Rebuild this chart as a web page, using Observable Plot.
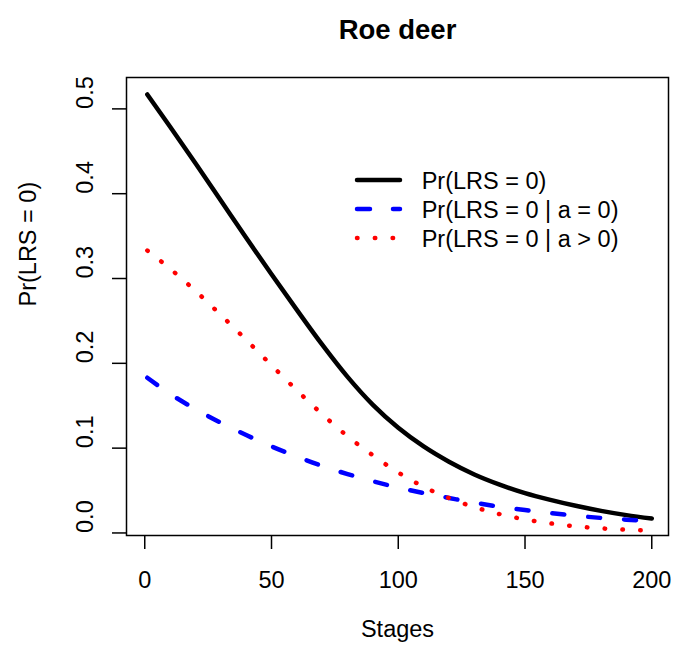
<!DOCTYPE html>
<html>
<head>
<meta charset="utf-8">
<script src="https://cdn.jsdelivr.net/npm/d3@7"></script>
<script src="https://cdn.jsdelivr.net/npm/@observablehq/plot@0.6"></script>
<style>
  body { margin: 0; background: #fff; }
  #wrap { position: relative; width: 673px; height: 655px; font-family: "Liberation Sans", Arial, Helvetica, sans-serif; }
  .lg-line { position: absolute; left: 350px; width: 60px; height: 12px; overflow: visible; }
  .lg-text { position: absolute; left: 421.7px; height: 29px; line-height: 29px; font-size: 23.5px; color: #000; white-space: nowrap; }
</style>
</head>
<body>
<div id="wrap"></div>
<script>
// ---- data ----
const stages = [1, 10, 20, 30, 40, 50, 60, 70, 80, 90, 100, 110, 120, 130, 140, 150, 160, 170, 180, 190, 200];
const prAll  = [0.517, 0.479, 0.436, 0.392, 0.348, 0.305, 0.263, 0.222, 0.184, 0.151, 0.124, 0.102, 0.084, 0.069, 0.057, 0.047, 0.039, 0.032, 0.026, 0.021, 0.017];
const prA0   = [0.183, 0.164, 0.146, 0.130, 0.1155, 0.102, 0.090, 0.079, 0.0694, 0.061, 0.0535, 0.047, 0.0413, 0.0357, 0.0309, 0.0270, 0.0234, 0.0203, 0.0177, 0.0157, 0.0140];
const prApos = [0.333, 0.3115, 0.2854, 0.257, 0.2277, 0.1977, 0.1682, 0.140, 0.114, 0.0915, 0.0713, 0.0545, 0.0411, 0.0305, 0.0222, 0.016, 0.0113, 0.0078, 0.0054, 0.0038, 0.0027];
const seriesNames = ["Pr(LRS = 0)", "Pr(LRS = 0 | a = 0)", "Pr(LRS = 0 | a > 0)"];
const xTicks = [0, 50, 100, 150, 200];
const yTicks = [0, 0.1, 0.2, 0.3, 0.4, 0.5];
const titleText = "Roe deer";
const xLabel = "Stages";
const yLabel = "Pr(LRS = 0)";

// ---- styles ----
const FONT = "\"Liberation Sans\", Arial, Helvetica, sans-serif";
const FS = 23.5;
const LW = 4.5;
const styles = [
  {stroke: "#000000", strokeDasharray: null},
  {stroke: "#0000ff", strokeDasharray: "12,24"},
  {stroke: "#ff0000", strokeDasharray: "0.5,17.3"}
];

const rows = s => stages.map((st, i) => ({stage: st, value: s[i]}));
const seriesData = [prAll, prA0, prApos];

const lineMarks = seriesData.map((s, i) => Plot.line(rows(s), {
  x: "stage", y: "value",
  stroke: styles[i].stroke,
  strokeWidth: LW,
  strokeDasharray: styles[i].strokeDasharray,
  strokeLinecap: "round",
  strokeLinejoin: "round",
  curve: "monotone-x"
}));

const chart = Plot.plot({
  width: 673, height: 655,
  marginLeft: 126, marginRight: 5, marginTop: 77, marginBottom: 120,
  x: {domain: [-7.2, 206.6]},
  y: {domain: [-0.003, 0.537]},
  style: {fontFamily: FONT, background: "white", color: "black"},
  marks: [
    ...lineMarks,
    Plot.frame({stroke: "black", strokeWidth: 1.5}),
    Plot.axisX(xTicks, {tickSize: 14, tickPadding: 21.7, fontSize: FS, stroke: "black", strokeWidth: 1.5, label: null, tickFormat: d => String(d)}),
    Plot.axisY(yTicks, {tickSize: 14, tickFormat: () => "", stroke: "black", strokeWidth: 1.5, label: null}),
    Plot.text(yTicks, {y: d => d, frameAnchor: "left", dx: -41, rotate: -90, text: d => d3.format(".1f")(d), fontSize: FS, fill: "black"}),
    Plot.text([yLabel], {frameAnchor: "left", dx: -98, rotate: -90, text: d => d, fontSize: FS, fill: "black"}),
    Plot.text([xLabel], {frameAnchor: "bottom", dy: 101.5, text: d => d, fontSize: FS, fill: "black"}),
    Plot.text([titleText], {frameAnchor: "top", dy: -58.5, text: d => d, fontSize: 27.5, fontWeight: "bold", fill: "black"})
  ]
});

const wrap = document.getElementById("wrap");
wrap.appendChild(chart);

// ---- legend (no box, as in the reference) ----
const lineY = [180, 209.3, 238.3];
const textY = [181.3, 210.5, 239.5];
seriesNames.forEach((name, i) => {
  const svg = d3.create("svg").attr("class", "lg-line")
    .style("top", (lineY[i] - 6) + "px")
    .attr("width", 60).attr("height", 12);
  svg.append("line")
    .attr("x1", 7).attr("x2", 50).attr("y1", 6).attr("y2", 6)
    .attr("stroke", styles[i].stroke)
    .attr("stroke-width", LW)
    .attr("stroke-linecap", "round")
    .attr("stroke-dasharray", i === 1 ? "13,23" : styles[i].strokeDasharray);
  wrap.appendChild(svg.node());
  const t = document.createElement("div");
  t.className = "lg-text";
  t.style.top = (textY[i] - 14.5) + "px";
  t.textContent = name;
  wrap.appendChild(t);
});
</script>
</body>
</html>
